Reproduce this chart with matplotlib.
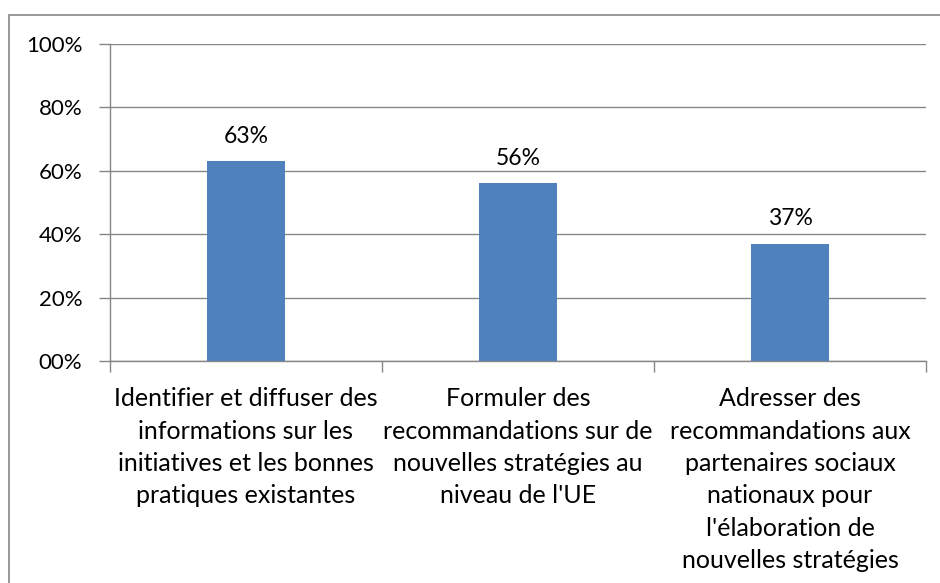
import matplotlib.pyplot as plt
from matplotlib.patches import Rectangle

categories = [
    "Identifier et diffuser des\ninformations sur les\ninitiatives et les bonnes\npratiques existantes",
    "Formuler des\nrecommandations sur de\nnouvelles stratégies au\nniveau de l'UE",
    "Adresser des\nrecommandations aux\npartenaires sociaux\nnationaux pour\nl'élaboration de\nnouvelles stratégies",
]
values = [63, 56, 37]
ytick_values = [0, 20, 40, 60, 80, 100]
ytick_labels = ["00%", "20%", "40%", "60%", "80%", "100%"]

plt.rcParams['font.family'] = ['Lato', 'DejaVu Sans']
grey = '#868686'

fig = plt.figure(figsize=(9.4, 5.83), dpi=100)
# chart area border (right and bottom edges fall outside the image)
fig.patches.append(Rectangle((8.5 / 940, -0.1), 1.0, 1.1 - 15 / 583, transform=fig.transFigure,
                             fill=False, edgecolor=grey, linewidth=1.2))

ax = fig.add_axes([110 / 940, 1 - 361 / 583, 816 / 940, 317 / 583])
x = range(len(values))
ax.bar(x, values, width=0.29, color='#4F81BD', zorder=3)
for i, v in zip(x, values):
    ax.text(i, v + 4.5, f"{v}%", ha='center', va='bottom', fontsize=16.5, color='#000000')

ax.set_xlim(-0.5, len(values) - 0.5)
ax.set_ylim(0, 100)
ax.set_yticks(ytick_values)
ax.set_yticklabels(ytick_labels, fontsize=16)
ax.yaxis.grid(True, color=grey, linewidth=1, zorder=0)

ax.set_xticks([i + 0.5 for i in range(-1, len(values))], minor=True)
ax.set_xticks(list(x))
ax.set_xticklabels(categories, fontsize=18, linespacing=1.49, va='top')
ax.tick_params(axis='x', which='major', length=0, pad=19)
ax.tick_params(axis='x', which='minor', length=8, color=grey, width=1)
ax.tick_params(axis='y', length=8, color=grey, width=1, pad=12)

for s in ['top', 'right']:
    ax.spines[s].set_visible(False)
for s in ['left', 'bottom']:
    ax.spines[s].set_color(grey)
    ax.spines[s].set_linewidth(1)

fig.savefig('out.png', dpi=100)
